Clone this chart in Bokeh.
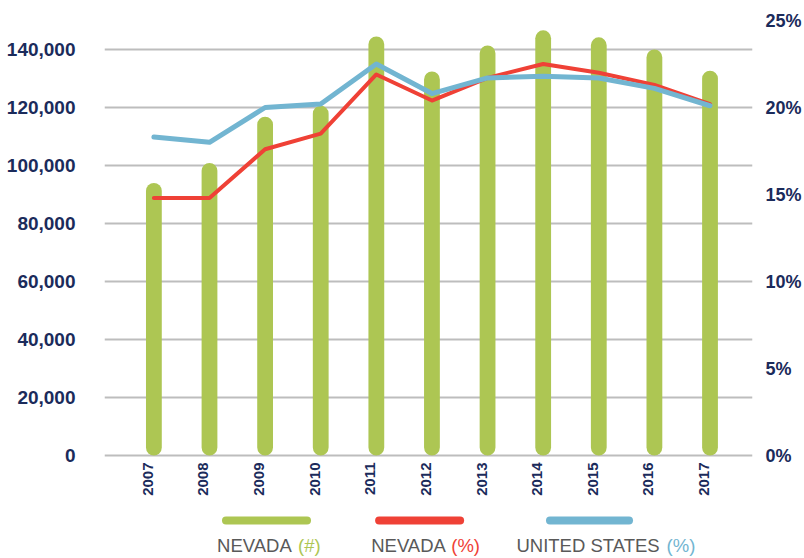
import math
from bokeh.plotting import figure
from bokeh.models import Range1d, LinearAxis, FixedTicker, NumeralTickFormatter, PrintfTickFormatter
from bokeh.embed import file_html
from bokeh.resources import INLINE
from bokeh.core.properties import value

# ---------------- data ----------------
years = [2007, 2008, 2009, 2010, 2011, 2012, 2013, 2014, 2015, 2016, 2017]
nevada_count = [94000, 100900, 116800, 120600, 144500, 132400, 141400, 146600, 144200, 140000, 132700]
nevada_pct = [14.8, 14.8, 17.6, 18.5, 21.9, 20.4, 21.7, 22.5, 22.0, 21.3, 20.2]
us_pct = [18.3, 18.0, 20.0, 20.2, 22.5, 20.8, 21.7, 21.8, 21.7, 21.1, 20.1]
left_ticks = [0, 20000, 40000, 60000, 80000, 100000, 120000, 140000]
right_ticks = [0, 5, 10, 15, 20, 25]
year_labels = [str(y) for y in years]
legend_names = ["NEVADA", "NEVADA", "UNITED STATES"]
legend_units = ["(#)", "(%)", "(%)"]

# ---------------- style / geometry ----------------
FONT = "Liberation Sans"
NAVY = "#1B2B5B"
GREEN = "#ADC653"
RED = "#EF4136"
BLUE = "#72B5D1"
GRID = "#BDBDBD"
GREY = "#595959"

W, H = 804, 558
LEFT, RIGHT, TOP = 104, 44, 20       # borders (canvas px)
ZERO_PX = 455                        # canvas y of the zero line
LEFT_MAX, RIGHT_MAX = 150000, 25
plot_px = ZERO_PX - TOP
below_px = H - ZERO_PX
left_min = -below_px * LEFT_MAX / plot_px
right_min = -below_px * RIGHT_MAX / plot_px

p = figure(width=W, height=H, output_backend="svg", toolbar_location=None,
           x_range=Range1d(2006.112, 2017.764), y_range=Range1d(left_min, LEFT_MAX),
           x_axis_location=None,
           min_border_left=LEFT, min_border_right=RIGHT, min_border_top=TOP, min_border_bottom=0)
p.outline_line_color = None
p.background_fill_color = "white"
p.border_fill_color = "white"
p.extra_y_ranges = {"pct": Range1d(right_min, RIGHT_MAX),
                    "px": Range1d(H, TOP)}          # canvas-pixel rows for legend/labels
p.extra_x_ranges = {"px": Range1d(LEFT, W - RIGHT)}

p.xgrid.grid_line_color = None
p.ygrid.grid_line_color = GRID
p.ygrid.grid_line_width = 2
p.ygrid.ticker = FixedTicker(ticks=left_ticks)

# left axis
ya = p.yaxis[0]
ya.ticker = FixedTicker(ticks=left_ticks)
ya.formatter = NumeralTickFormatter(format="0,0")
ya.axis_line_color = None
ya.major_tick_line_color = None
ya.minor_tick_line_color = None
ya.major_label_standoff = 23
ya.major_label_text_font = FONT
ya.major_label_text_font_style = "bold"
ya.major_label_text_font_size = "19px"
ya.major_label_text_color = NAVY

# right axis
ra = LinearAxis(y_range_name="pct", ticker=FixedTicker(ticks=right_ticks),
                formatter=PrintfTickFormatter(format="%d%%"))
ra.axis_line_color = None
ra.major_tick_line_color = None
ra.minor_tick_line_color = None
ra.major_label_standoff = 7
ra.major_label_text_font = FONT
ra.major_label_text_font_style = "bold"
ra.major_label_text_font_size = "18px"
ra.major_label_text_color = NAVY
p.add_layout(ra, "right")

# bars and lines
p.vbar(x=years, top=nevada_count, bottom=0, width=0.284, fill_color=GREEN,
       line_color=None, border_radius=8)
p.line(years, nevada_pct, y_range_name="pct", line_color=RED, line_width=4,
       line_join="round", line_cap="round")
p.line(years, us_pct, y_range_name="pct", line_color=BLUE, line_width=5,
       line_join="round", line_cap="round")

# x tick labels (vertical, reading upward)
p.text(x=years, y=[ZERO_PX + 7] * len(years), y_range_name="px", text=year_labels,
       angle=math.pi / 2, text_align="right", text_baseline="middle", x_offset=-6,
       text_font=value(FONT), text_font_style="bold", text_font_size="15px",
       text_color=NAVY)

# legend
p.segment(x0=[227, 382, 555], y0=[520] * 3, x1=[309, 464, 635], y1=[520] * 3,
          x_range_name="px", y_range_name="px",
          line_color=[GREEN, RED, BLUE], line_width=8, line_cap="round")
p.text(x=[218, 374, 521], y=[545] * 3, x_range_name="px", y_range_name="px",
       text=legend_names, text_font=value(FONT), text_font_size="18.5px",
       text_color=GREY, text_baseline="alphabetic")
p.text(x=[300, 455, 673], y=[545] * 3, x_range_name="px", y_range_name="px",
       text=legend_units, text_font=value(FONT), text_font_size="18.5px",
       text_color=[GREEN, RED, BLUE], text_baseline="alphabetic")

open("out.html", "w").write(file_html(p, INLINE))
